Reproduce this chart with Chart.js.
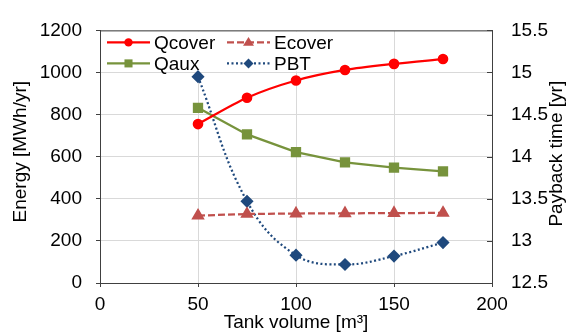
<!DOCTYPE html>
<html><head><meta charset="utf-8">
<script src="https://cdn.jsdelivr.net/npm/chart.js@4.4.1/dist/chart.umd.min.js"></script>
<style>html,body{margin:0;padding:0;background:#fff}#wrap{width:569px;height:333px}</style>
</head><body><div id="wrap"><canvas id="c" width="569" height="333"></canvas></div>
<script>
const volumes = [50, 75, 100, 125, 150, 175];
const qcover = [755, 880, 962, 1012, 1041, 1064];
const ecover = [320, 328, 330, 331, 332, 333];
const qaux = [832, 706, 622, 573, 548, 530];
const pbt = [14.95, 13.47, 12.83, 12.72, 12.82, 12.98];
const seriesNames = ['Qcover', 'Ecover', 'Qaux', 'PBT'];
const xTitle = 'Tank volume [m³]';
const yTitle = 'Energy [MWh/yr]';
const y2Title = 'Payback time [yr]';

const FONT = 'Liberation Sans, Arial, sans-serif';
const FS = 19;
const AXIS = '#404040';
const GRID = '#D9D9D9';

function pts(ys) { return volumes.map((v, i) => ({x: v, y: ys[i]})); }
const plain = v => String(v);

function marker(ctx, style, x, y, r, color) {
  ctx.save();
  ctx.fillStyle = color; ctx.strokeStyle = color; ctx.setLineDash([]);
  ctx.beginPath();
  if (style === 'circle') { ctx.arc(x, y, r, 0, Math.PI * 2); }
  else if (style === 'rect') { const s = r * Math.SQRT1_2; ctx.rect(x - s, y - s, 2 * s, 2 * s); }
  else if (style === 'rectRot') { ctx.moveTo(x, y - r); ctx.lineTo(x + r, y); ctx.lineTo(x, y + r); ctx.lineTo(x - r, y); ctx.closePath(); }
  else if (style === 'triangle') {
    ctx.moveTo(x, y - r); ctx.lineTo(x + r, y + r * 0.6); ctx.lineTo(x - r, y + r * 0.6); ctx.closePath();
  }
  ctx.fill();
  ctx.restore();
}

function vTitle(ctx, text, x, y) {
  ctx.save();
  ctx.translate(x, y);
  ctx.rotate(-Math.PI / 2);
  ctx.fillStyle = '#000'; ctx.font = FS + 'px ' + FONT;
  ctx.textAlign = 'center'; ctx.textBaseline = 'middle';
  ctx.fillText(text, 0, 0);
  ctx.restore();
}

const decor = {
  id: 'decor',
  beforeDatasetsDraw(chart) {
    const ctx = chart.ctx, a = chart.chartArea;
    ctx.save();
    ctx.fillStyle = '#fff';
    ctx.fillRect(a.left + 1, a.top + 1, 246, 40);
    ctx.restore();
  },
  afterDraw(chart) {
    const ctx = chart.ctx, a = chart.chartArea;
    ctx.save();
    ctx.strokeStyle = AXIS; ctx.lineWidth = 1;
    ctx.beginPath(); ctx.moveTo(a.left, a.top + 0.5); ctx.lineTo(a.right, a.top + 0.5); ctx.stroke();
    const y2 = chart.scales.y2;
    y2.ticks.forEach(t => {
      const yy = Math.round(y2.getPixelForValue(t.value)) + 0.5;
      ctx.beginPath(); ctx.moveTo(a.right - 5, yy); ctx.lineTo(a.right, yy); ctx.stroke();
    });
    const pos = [[a.left + 7, a.top + 12], [a.left + 127, a.top + 12], [a.left + 7, a.top + 33], [a.left + 127, a.top + 33]];
    [0, 1, 2, 3].forEach((di, k) => {
      const ds = chart.data.datasets[di];
      const [x, y] = pos[k];
      ctx.save();
      ctx.strokeStyle = ds.borderColor; ctx.lineWidth = ds.borderWidth;
      ctx.setLineDash(ds.borderDash || []);
      ctx.beginPath(); ctx.moveTo(x, y); ctx.lineTo(x + 43, y); ctx.stroke();
      ctx.restore();
      marker(ctx, ds.pointStyle, x + 21.5, y, ds.pointRadius, ds.pointBackgroundColor);
      ctx.fillStyle = '#000';
      ctx.font = FS + 'px ' + FONT;
      ctx.textBaseline = 'middle'; ctx.textAlign = 'left';
      ctx.fillText(ds.label, x + 47, y + 1);
    });
    const mid = (a.top + a.bottom) / 2;
    vTitle(ctx, yTitle, 21, mid - 5);
    vTitle(ctx, y2Title, 557, mid - 3);
    ctx.restore();
  }
};

new Chart(document.getElementById('c'), {
  type: 'line',
  data: {
    datasets: [
      {label: seriesNames[0], data: pts(qcover), yAxisID: 'y', borderColor: '#FF0000', backgroundColor: '#FF0000',
       pointBackgroundColor: '#FF0000', pointBorderColor: '#FF0000', borderWidth: 2.25, pointStyle: 'circle', pointRadius: 4.2, tension: 0.3},
      {label: seriesNames[1], data: pts(ecover), yAxisID: 'y', borderColor: '#C0504D', backgroundColor: '#C0504D',
       pointBackgroundColor: '#C0504D', pointBorderColor: '#C0504D', borderWidth: 2.25, borderDash: [7, 3], pointStyle: 'triangle', pointRadius: 5.5, tension: 0},
      {label: seriesNames[2], data: pts(qaux), yAxisID: 'y', borderColor: '#77933C', backgroundColor: '#77933C',
       pointBackgroundColor: '#77933C', pointBorderColor: '#77933C', borderWidth: 2.25, pointStyle: 'rect', pointRadius: 5.7, tension: 0},
      {label: seriesNames[3], data: pts(pbt), yAxisID: 'y2', borderColor: '#1F497D', backgroundColor: '#1F497D',
       pointBackgroundColor: '#1F497D', pointBorderColor: '#1F497D', borderWidth: 2.25, borderDash: [2, 2.5], pointStyle: 'rectRot', pointRadius: 5, tension: 0.4}
    ]
  },
  options: {
    responsive: false, animation: false, devicePixelRatio: 1,
    layout: {padding: {top: 21, left: 0, right: 0, bottom: 0}},
    plugins: {legend: {display: false}, tooltip: {enabled: false}},
    elements: {point: {borderWidth: 0}},
    scales: {
      x: {type: 'linear', min: 0, max: 200,
          ticks: {stepSize: 50, color: '#000', font: {family: FONT, size: FS}, padding: 6, maxRotation: 0, callback: plain},
          grid: {color: GRID, tickColor: AXIS, tickLength: 4},
          border: {color: AXIS, width: 1},
          title: {display: true, text: xTitle, color: '#000', font: {family: FONT, size: FS}, padding: {top: 0, bottom: -1}},
          afterFit: s => { s.height = 50; }},
      y: {position: 'left', min: 0, max: 1200,
          ticks: {stepSize: 200, color: '#000', font: {family: FONT, size: FS}, padding: 14, callback: plain},
          grid: {color: GRID, tickColor: AXIS, tickLength: 4},
          border: {color: AXIS, width: 1},
          afterFit: s => { s.width = 100; }},
      y2: {position: 'right', min: 12.5, max: 15.5,
          ticks: {stepSize: 0.5, color: '#000', font: {family: FONT, size: FS}, padding: 19, callback: plain},
          grid: {drawOnChartArea: false, drawTicks: false},
          border: {color: AXIS, width: 1},
          afterFit: s => { s.width = 77; }}
    }
  },
  plugins: [decor]
});
</script></body></html>
